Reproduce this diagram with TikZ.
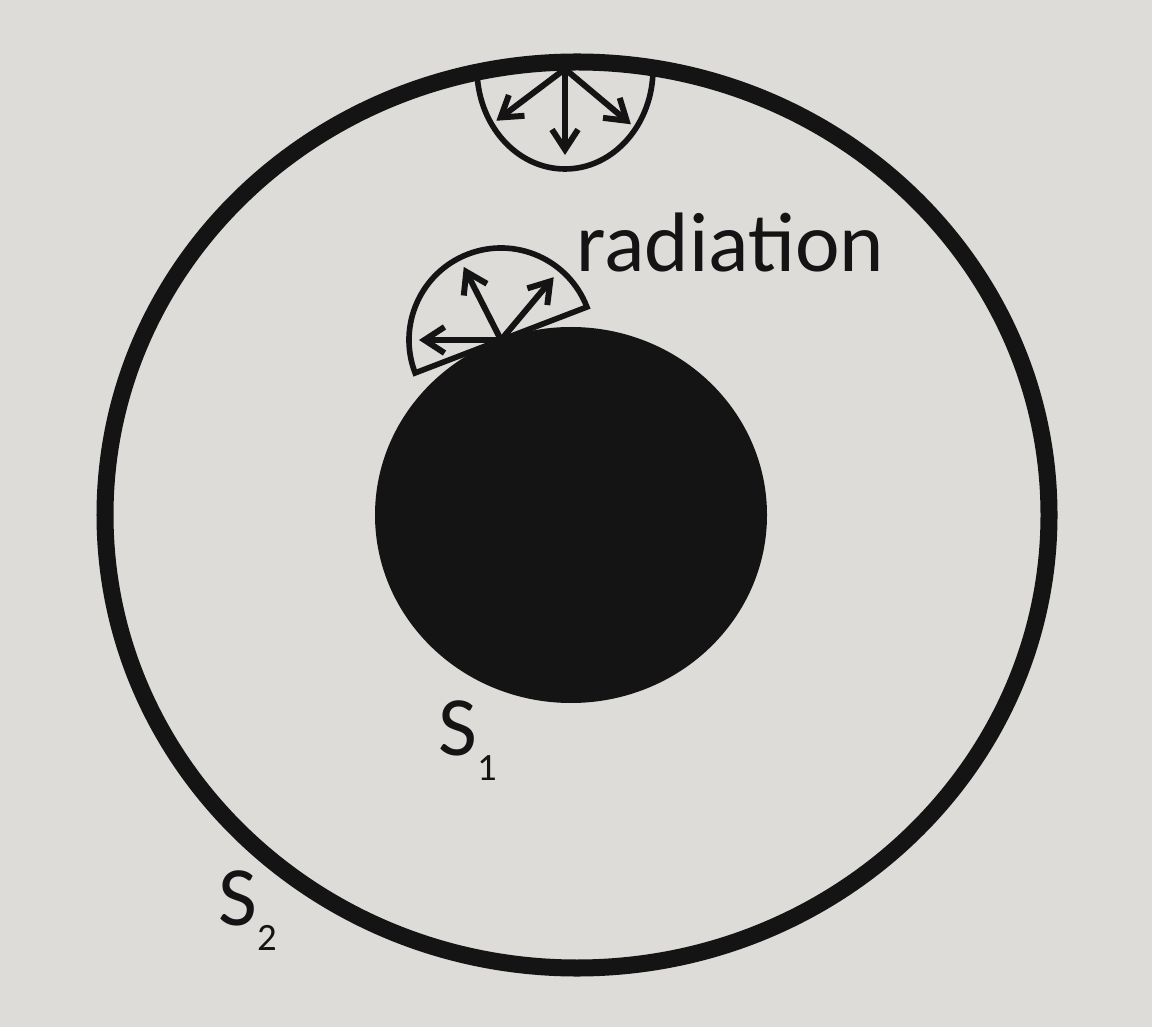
\documentclass[tikz,border=0pt]{standalone}
\usepackage{fontspec}
\setmainfont{Carlito}
\usetikzlibrary{arrows.meta}
\definecolor{paper}{RGB}{221,220,217}
\definecolor{ink}{RGB}{20,20,20}
\tikzset{
  ray/.style={-{Straight Barb[length=2mm,width=2.6mm]},line width=1.7pt,draw=ink},
  dome/.style={line width=1.6pt,draw=ink},
  lbl/.style={font=\fontsize{24}{28}\selectfont,text=ink,inner sep=0pt,anchor=base west},
}
\begin{document}
\begin{tikzpicture}[x=0.01cm,y=0.01cm]
    \fill[paper] (0,0) rectangle (1152,1027);
    % emitting spots
    \coordinate (top) at (565,958);
    \coordinate (spot) at (501,687);
    % hemisphere under the outer shell
    \draw[dome] (top) ++(180:88) arc[start angle=180,end angle=360,x radius=88,y radius=100];
    \foreach \a in {217,270,320}
      \draw[ray] (top) -- ++(\a:86);
    % outer shell S2
    \draw[ink,line width=0.17cm] (577,512) ellipse[x radius=472,y radius=453];
    % inner body S1
    \fill[ink] (571,512) ellipse[x radius=196,y radius=188];
    % hemisphere on the body
    \draw[dome,fill=paper] (spot) ++(21:92) arc[start angle=21,end angle=201,radius=92] -- cycle;
    \foreach \a in {50,117,180}
      \draw[ray] (spot) -- ++(\a:82);
    % labels
    \node[lbl] (rad) at (576,755) {radiation};
    \node[lbl] (s1) at (438,272) {S\raisebox{-0.3em}{\fontsize{11}{11}\selectfont 1}};
    \node[lbl] (s2) at (218,102) {S\raisebox{-0.3em}{\fontsize{11}{11}\selectfont 2}};
\end{tikzpicture}
\end{document}
